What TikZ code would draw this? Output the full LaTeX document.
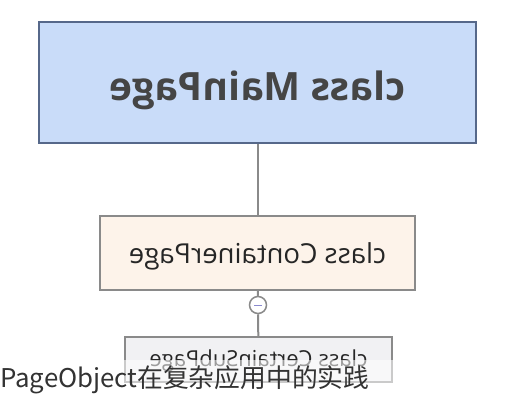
\documentclass[tikz,border=0pt]{standalone}
\usepackage{fontspec}
\setmainfont{Open Sans}
\newfontfamily\cjk{Noto Sans CJK SC}
\usepackage{tikz}
\definecolor{mainfill}{HTML}{C9DCF9}
\definecolor{mainline}{HTML}{56688A}
\definecolor{pagefill}{HTML}{FDF3EA}
\definecolor{subfill}{HTML}{F1F1F3}
\definecolor{linkgray}{HTML}{8A8A8A}
\definecolor{textgray}{HTML}{454545}
\definecolor{minusblue}{HTML}{8A8ACF}

\begin{document}
\begin{tikzpicture}[x=1pt,y=-1pt,
  mainbox/.style={draw=mainline,line width=2pt,fill=mainfill,minimum width=437pt,minimum height=121pt,inner sep=0pt,text height=35pt,text depth=0pt,text=textgray,font=\bfseries\fontsize{39}{44}\selectfont},
  pagebox/.style={draw=linkgray,line width=2pt,fill=pagefill,minimum width=315pt,minimum height=74pt,inner sep=0pt,text height=20pt,text depth=0pt,text=black!85,font=\fontsize{27.5}{32}\selectfont},
  subbox/.style={draw=linkgray,line width=2pt,fill=subfill,minimum width=267pt,minimum height=45pt,inner sep=0pt,text height=13pt,text depth=0pt,text=black!85,font=\fontsize{22}{26}\selectfont},
  link/.style={draw=linkgray,line width=2pt}]
\useasboundingbox (0,0) rectangle (512,400);
\fill[white] (0,0) rectangle (512,400);
\node[mainbox] (main) at (257.5,82.5) {\reflectbox{class MainPage}};
\node[pagebox] (container) at (257.5,253) {\reflectbox{class ContainerPage}};
\node[subbox] (certain) at (258.5,359.5) {\reflectbox{class CertainSubPage}};
\node[circle,draw=linkgray,line width=1.5pt,fill=white,minimum size=17pt,inner sep=0pt] (minus) at (258,305) {};
\draw[minusblue,line width=1pt] (254,305) -- (262,305);
\draw[link] (main) -- (container);
\draw[link] (container) -- (minus);
\draw[link] (minus) -- (certain);
% caption band
\fill[white,opacity=0.55] (0,360) rectangle (512,400);
\node[anchor=base west,inner sep=0pt,text=black!80,font=\cjk\fontsize{25.8}{29}\selectfont] (caption) at (0,387) {PageObject在复杂应用中的实践};
\end{tikzpicture}
\end{document}
